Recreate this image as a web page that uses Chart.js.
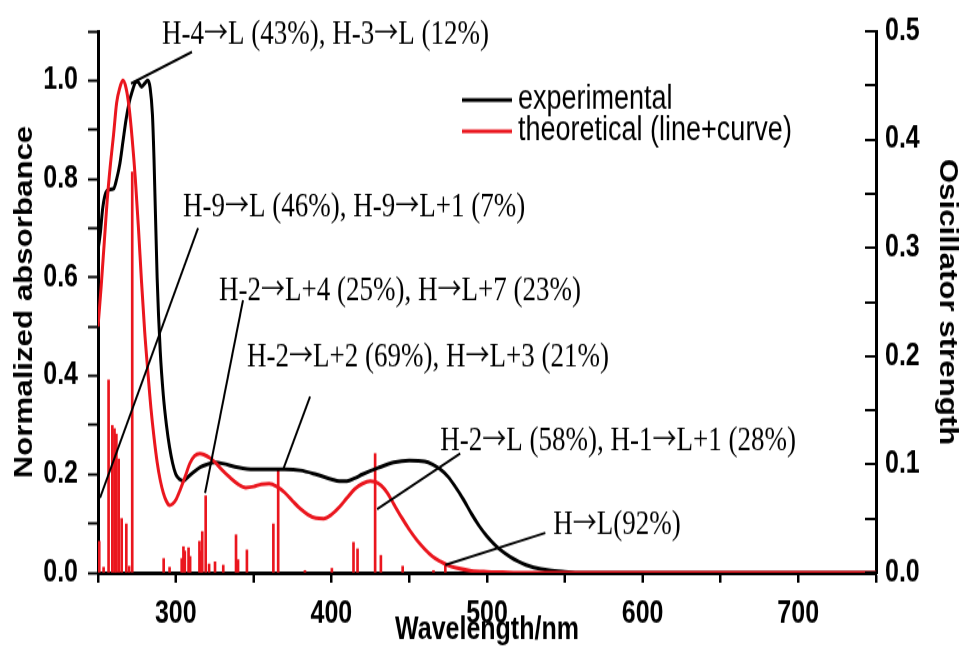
<!DOCTYPE html>
<html>
<head>
<meta charset="utf-8">
<title>UV-Vis absorption</title>
<script src="https://cdn.jsdelivr.net/npm/chart.js@4.4.1/dist/chart.umd.min.js"></script>
<style>
  body { margin: 0; background: #fff; }
  /* figure is drawn at 962x519 and stretched to the page height */
  #uvChart { display: block; width: 962px !important; height: 649px !important; }
</style>
</head>
<body>
<canvas id="uvChart" width="962" height="519"></canvas>
<script>
// experimental spectrum (normalized absorbance)
var expNm = [250, 251.5, 253, 255, 257, 260, 262, 264, 266, 268, 270, 272, 274, 275.5, 278, 280, 282, 283.5, 285, 286,
  288, 290, 292, 294, 296, 298, 300, 302.5, 305, 308, 312, 316, 320, 325, 330, 340, 350, 360, 370, 380,
  390, 400, 405, 410, 415, 420, 430, 440, 450, 460, 465, 470, 475, 480, 485, 490, 495, 500, 505, 510,
  515, 520, 525, 530, 540, 550, 560, 750];
var expAbs = [0.655, 0.69, 0.74, 0.772, 0.778, 0.78, 0.80, 0.83, 0.875, 0.92, 0.955, 0.978, 0.996, 0.998, 0.987, 0.994, 1.0, 0.985, 0.93, 0.84,
  0.60, 0.45, 0.36, 0.30, 0.255, 0.222, 0.20, 0.19, 0.187, 0.195, 0.206, 0.215, 0.22, 0.224, 0.222, 0.214, 0.21, 0.21, 0.21, 0.208,
  0.20, 0.19, 0.186, 0.186, 0.192, 0.20, 0.213, 0.224, 0.228, 0.226, 0.22, 0.21, 0.195, 0.173, 0.148, 0.12, 0.095, 0.074, 0.057, 0.043,
  0.032, 0.023, 0.016, 0.011, 0.005, 0.002, 0, 0];

// theoretical broadened curve
var theoNm = [250, 252, 254, 256, 258, 260, 262, 264, 266, 268, 270, 272, 274, 276, 278, 280, 282, 284, 286, 288,
  290, 292, 294, 296, 298, 300, 303, 306, 309, 312, 315.5, 318, 322, 326, 330, 335, 340, 345, 350, 355,
  360, 365, 370, 375, 380, 385, 390, 395, 400, 405, 410, 415, 420, 425, 428, 432, 436, 440, 445, 450,
  455, 460, 465, 470, 475, 480, 490, 500, 510, 520, 750];
var theoAbs = [0.50, 0.58, 0.67, 0.76, 0.83, 0.89, 0.955, 0.985, 1.0, 0.985, 0.945, 0.88, 0.80, 0.70, 0.59, 0.49, 0.41, 0.335, 0.275, 0.225,
  0.188, 0.162, 0.145, 0.137, 0.14, 0.148, 0.17, 0.195, 0.222, 0.237, 0.242, 0.24, 0.233, 0.222, 0.208, 0.193, 0.18, 0.173, 0.175, 0.18,
  0.181, 0.175, 0.163, 0.146, 0.13, 0.118, 0.111, 0.11, 0.118, 0.133, 0.152, 0.17, 0.181, 0.186, 0.185, 0.177, 0.162, 0.14, 0.113, 0.088,
  0.066, 0.048, 0.033, 0.023, 0.015, 0.01, 0.004, 0.002, 0.001, 0, 0];

// calculated transitions (oscillator strength)
var stickNm = [250.8, 253.6, 256.8, 259.2, 260.6, 261.8, 263.3, 265.2, 268.2, 270, 272, 292.2, 296, 303.8, 304.9, 305.8, 308.2, 309.2, 315.2, 316.2,
  317, 319.2, 321.4, 325.2, 330.5, 338.7, 340, 345.7, 362.7, 365.8, 383, 400.3, 414.2, 416.8, 428.1, 431.8, 445.8, 465.6, 473.2];
var stickF = [0.029, 0.005, 0.178, 0.136, 0.133, 0.128, 0.105, 0.050, 0.045, 0.006, 0.37, 0.013, 0.005, 0.013, 0.024, 0.020, 0.023, 0.015, 0.029, 0.020,
  0.038, 0.071, 0.008, 0.010, 0.007, 0.035, 0.012, 0.021, 0.045, 0.096, 0.002, 0.004, 0.028, 0.022, 0.110, 0.016, 0.006, 0.002, 0.007];

// transition labels: text, leader line start/end and text position (nm, absorbance)
var noteText = ['H-4\u2192L (43%), H-3\u2192L (12%)', 'H-9\u2192L (46%), H-9\u2192L+1 (7%)', 'H-2\u2192L+4 (25%), H\u2192L+7 (23%)',
  'H-2\u2192L+2 (69%), H\u2192L+3 (21%)', 'H-2\u2192L (58%), H-1\u2192L+1 (28%)', 'H\u2192L(92%)'];
var noteFromNm = [271.2, 251.3, 318.8, 369, 429.4, 473.2];
var noteFromAbs = [0.994, 0.152, 0.162, 0.21, 0.129, 0.016];
var noteToNm = [310.4, 314.3, 343.2, 386.3, 482.8, 537.5];
var noteToAbs = [1.058, 0.70, 0.554, 0.358, 0.242, 0.081];
var noteTextNm = [291.2, 304.7, 327.8, 345.8, 470, 542.6];
var noteTextAbs = [1.075, 0.725, 0.554, 0.42, 0.25, 0.079];

var RED = 'rgb(234, 22, 30)';
var SERIF = '27px "Liberation Serif", "Times New Roman", serif';
var ARROW = '24px "Noto Sans CJK SC", "DejaVu Sans", sans-serif';

function pts(xs, ys) {
  return xs.map(function (x, i) { return { x: x, y: ys[i] }; });
}

// serif text, arrows taken from the CJK font (long thin arrow)
function drawNote(ctx, text, x, y) {
  var parts = text.split('\u2192');
  parts.forEach(function (p, i) {
    ctx.font = SERIF;
    ctx.fillText(p, x, y);
    x += ctx.measureText(p).width;
    if (i < parts.length - 1) {
      ctx.font = ARROW;
      ctx.fillText('\u2192', x, y - 1);
      x += ctx.measureText('\u2192').width;
    }
  });
}

// tick marks: right axis points into the plot, bottom axis points down
var axisTicks = {
  id: 'axisTicks',
  afterDraw: function (chart) {
    var r = chart.scales.y2, b = chart.scales.x, ctx = chart.ctx;
    ctx.save();
    ctx.strokeStyle = '#000';
    ctx.lineWidth = 2;
    ctx.beginPath();
    r.ticks.forEach(function (t) {
      var py = Math.round(r.getPixelForValue(t.value));
      ctx.moveTo(r.left, py);
      ctx.lineTo(r.left - 11, py);
    });
    b.ticks.forEach(function (t) {
      var px = Math.round(b.getPixelForValue(t.value));
      ctx.moveTo(px, b.top);
      ctx.lineTo(px, b.top + 8);
    });
    ctx.stroke();
    ctx.restore();
  }
};

// leader lines + transition labels
var notes = {
  id: 'notes',
  afterDatasetsDraw: function (chart) {
    var x = chart.scales.x, y = chart.scales.y, ctx = chart.ctx;
    ctx.save();
    ctx.strokeStyle = '#000';
    ctx.lineWidth = 2;
    ctx.fillStyle = '#000';
    ctx.textBaseline = 'alphabetic';
    for (var i = 0; i < noteText.length; i++) {
      ctx.beginPath();
      ctx.moveTo(x.getPixelForValue(noteFromNm[i]), y.getPixelForValue(noteFromAbs[i]));
      ctx.lineTo(x.getPixelForValue(noteToNm[i]), y.getPixelForValue(noteToAbs[i]));
      ctx.stroke();
      drawNote(ctx, noteText[i], x.getPixelForValue(noteTextNm[i]), y.getPixelForValue(noteTextAbs[i]));
    }
    ctx.restore();
  }
};

// legend inside the plot
var legendBox = {
  id: 'legendBox',
  afterDraw: function (chart) {
    var ctx = chart.ctx;
    var lx = 462, ly = 80;
    ctx.save();
    ctx.font = '27px "Liberation Sans", Arial, sans-serif';
    ctx.textBaseline = 'middle';
    chart.data.datasets.forEach(function (ds) {
      if (ds.type !== 'line') return;
      ctx.strokeStyle = ds.borderColor;
      ctx.lineWidth = 3;
      ctx.beginPath();
      ctx.moveTo(lx, ly);
      ctx.lineTo(lx + 50, ly);
      ctx.stroke();
      ctx.fillStyle = '#000';
      ctx.fillText(ds.label, lx + 56, ly);
      ly += 25;
    });
    ctx.restore();
  }
};

var tickFont = { family: '"Liberation Sans", Arial, sans-serif', size: 25, weight: 'bold' };
var titleFont = { family: '"Liberation Sans", Arial, sans-serif', size: 25, weight: 'bold' };

new Chart(document.getElementById('uvChart'), {
  data: {
    datasets: [
      {
        type: 'line', label: 'experimental', data: pts(expNm, expAbs),
        borderColor: '#000', borderWidth: 3, pointRadius: 0,
        cubicInterpolationMode: 'monotone', yAxisID: 'y', order: 2
      },
      {
        type: 'line', label: 'theoretical (line+curve)', data: pts(theoNm, theoAbs),
        borderColor: RED, borderWidth: 3, pointRadius: 0,
        cubicInterpolationMode: 'monotone', yAxisID: 'y', order: 1
      },
      {
        type: 'bar', label: 'f', data: pts(stickNm, stickF),
        backgroundColor: RED, barThickness: 2, yAxisID: 'y2', order: 3
      }
    ]
  },
  options: {
    responsive: false,
    animation: false,
    devicePixelRatio: 1,
    layout: { padding: { top: 22, left: 0, right: 0, bottom: 0 } },
    plugins: { legend: { display: false }, tooltip: { enabled: false } },
    scales: {
      x: {
        type: 'linear', position: 'bottom', min: 250, max: 750, offset: false,
        afterFit: function (s) { s.height = 61; },
        ticks: {
          stepSize: 50, color: '#000', font: tickFont, padding: 10, maxRotation: 0,
          callback: function (v) { return v % 100 === 0 ? v : ''; }
        },
        grid: { offset: false, drawOnChartArea: false, tickLength: 8, tickWidth: 2, tickColor: '#000' },
        border: { color: '#000', width: 3 },
        title: { display: true, text: 'Wavelength/nm', color: '#000', font: titleFont, padding: { top: 0, bottom: 0 } }
      },
      y: {
        position: 'left', min: 0, max: 1.1,
        afterFit: function (s) { s.width = 98; },
        ticks: {
          stepSize: 0.1, color: '#000', font: tickFont, padding: 10,
          callback: function (v) { return Math.round(v * 10) % 2 === 0 ? v.toFixed(1) : ''; }
        },
        grid: { drawOnChartArea: false, tickLength: 10, tickWidth: 2, tickColor: '#000' },
        border: { color: '#000', width: 3 },
        title: { display: true, text: 'Normalized absorbance', color: '#000', font: titleFont, padding: { top: 10, bottom: 0 } }
      },
      y2: {
        position: 'right', min: 0, max: 0.5,
        afterFit: function (s) { s.width = 86; },
        ticks: {
          stepSize: 0.05, color: '#000', font: tickFont, padding: 9,
          callback: function (v) { return Math.round(v * 100) % 10 === 0 ? v.toFixed(1) : ''; }
        },
        grid: { drawOnChartArea: false, drawTicks: false },
        border: { color: '#000', width: 3 },
        title: { display: true, text: 'Osicillator strength', color: '#000', font: titleFont, padding: { top: 0, bottom: 2 } }
      }
    }
  },
  plugins: [axisTicks, notes, legendBox]
});
</script>
</body>
</html>
